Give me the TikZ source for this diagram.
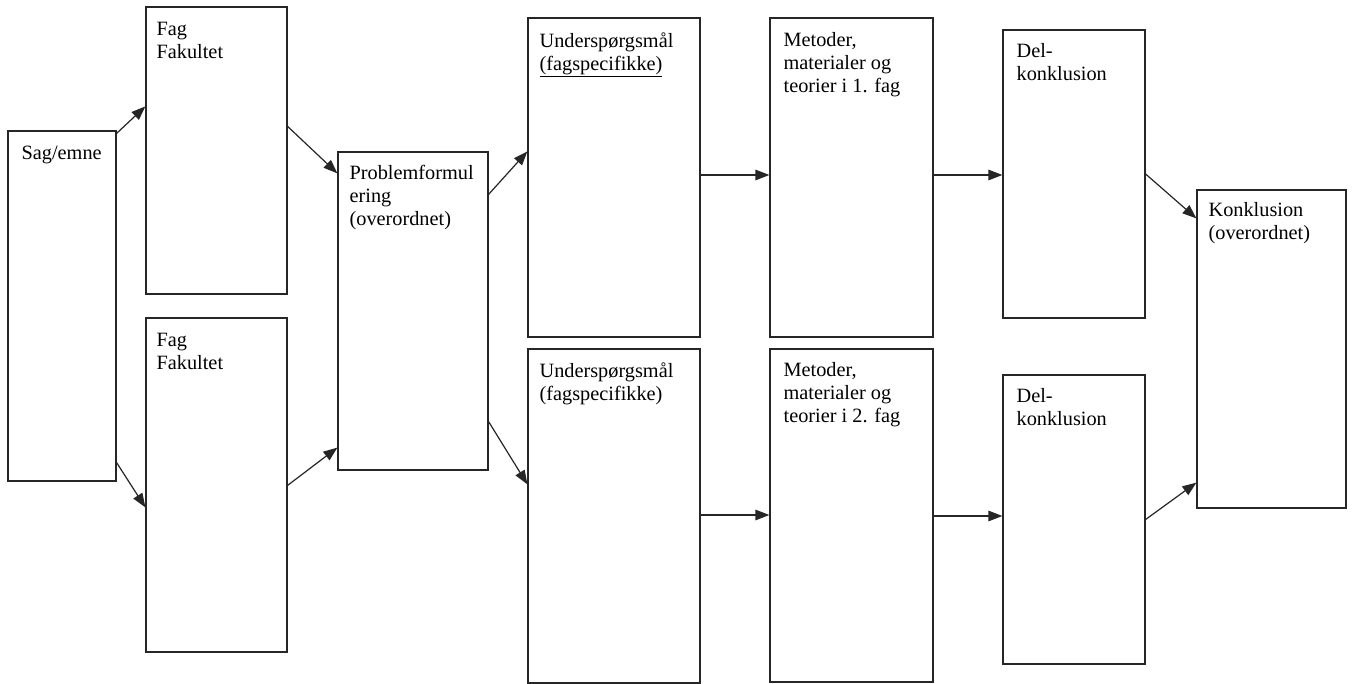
\documentclass[tikz,border=0pt]{standalone}
\usepackage{fontspec}
\setmainfont{Liberation Serif}
\usetikzlibrary{arrows.meta}
\begin{document}
\begin{tikzpicture}[x=1pt,y=-1pt,
  box/.style={draw=black!85, line width=1.2pt, rectangle, inner sep=0pt},
  txt/.style={anchor=north west, inner sep=0pt, align=left,
    font=\fontsize{20.3}{23}\selectfont},
  conn/.style={draw=black!85, line width=1.2pt, -{Triangle[length=14pt,width=10.5pt]}}]
\useasboundingbox (0,0) rectangle (1355,684);
\fill[white] (0,0) rectangle (1355,684);
% boxes
\node[box, minimum width=108pt, minimum height=350pt] (sag) at (62,306) {};
\node[box, minimum width=141pt, minimum height=287pt] (fag1) at (216.5,150.5) {};
\node[box, minimum width=141pt, minimum height=334pt] (fag2) at (216.5,485) {};
\node[box, minimum width=150pt, minimum height=318pt] (prob) at (413,311) {};
\node[box, minimum width=172pt, minimum height=319pt] (und1) at (614,177.5) {};
\node[box, minimum width=172pt, minimum height=334pt] (und2) at (614,516) {};
\node[box, minimum width=163pt, minimum height=319pt] (met1) at (851.5,177.5) {};
\node[box, minimum width=163pt, minimum height=333pt] (met2) at (851.5,515.5) {};
\node[box, minimum width=142pt, minimum height=288pt] (del1) at (1074,174) {};
\node[box, minimum width=142pt, minimum height=289pt] (del2) at (1074,519.5) {};
\node[box, minimum width=149pt, minimum height=318pt] (konk) at (1271.5,349) {};
% texts
\node[txt] (tsag) at ([shift={(14,15.5)}]sag.north west) {Sag/emne};
\node[txt] (tfag1) at ([shift={(11,15.5)}]fag1.north west) {Fag\\Fakultet};
\node[txt] (tfag2) at ([shift={(11,15.5)}]fag2.north west) {Fag\\Fakultet};
\node[txt] (tprob) at ([shift={(12,14)}]prob.north west) {Problemformul\\ering\\(overordnet)};
\node[txt] (tund1) at ([shift={(12,15)}]und1.north west) {Underspørgsmål\\\underline{(fagspecifikke)}};
\node[txt] (tund2) at ([shift={(12,14)}]und2.north west) {Underspørgsmål\\(fagspecifikke)};
\node[txt] (tmet1) at ([shift={(14,15)}]met1.north west) {Metoder,\\materialer og\\teorier i 1. fag};
\node[txt] (tmet2) at ([shift={(14,14)}]met2.north west) {Metoder,\\materialer og\\teorier i 2. fag};
\node[txt] (tdel1) at ([shift={(14,13.5)}]del1.north west) {Del-\\konklusion};
\node[txt] (tdel2) at ([shift={(14,13.5)}]del2.north west) {Del-\\konklusion};
\node[txt] (tkonk) at ([shift={(12,13)}]konk.north west) {Konklusion\\(overordnet)};
% connectors
\draw[conn] ([shift={(0,3)}]sag.north east) -- ([shift={(0,100)}]fag1.north west);
\draw[conn] ([shift={(0,-19)}]sag.south east) -- ([shift={(0,190)}]fag2.north west);
\draw[conn] ([shift={(0,120)}]fag1.north east) -- ([shift={(0,22)}]prob.north west);
\draw[conn] ([shift={(0,168)}]fag2.north east) -- ([shift={(0,-23)}]prob.south west);
\draw[conn] ([shift={(0,43)}]prob.north east) -- ([shift={(0,134)}]und1.north west);
\draw[conn] ([shift={(0,-49)}]prob.south east) -- ([shift={(0,136)}]und2.north west);
\draw[conn] ([shift={(0,-2.5)}]und1.east) -- ([shift={(0,-2.5)}]met1.west);
\draw[conn] ([shift={(0,-1)}]und2.east) -- ([shift={(0,-1)}]und2.east -| met2.west);
\draw[conn] ([shift={(0,-2.5)}]met1.east) -- ([shift={(0,-2.5)}]met1.east -| del1.west);
\draw[conn] ([shift={(0,0.5)}]met2.east) -- ([shift={(0,0.5)}]met2.east -| del2.west);
\draw[conn] (del1.east) -- ([shift={(0,29)}]konk.north west);
\draw[conn] (del2.east) -- ([shift={(0,-26)}]konk.south west);
\end{tikzpicture}
\end{document}
